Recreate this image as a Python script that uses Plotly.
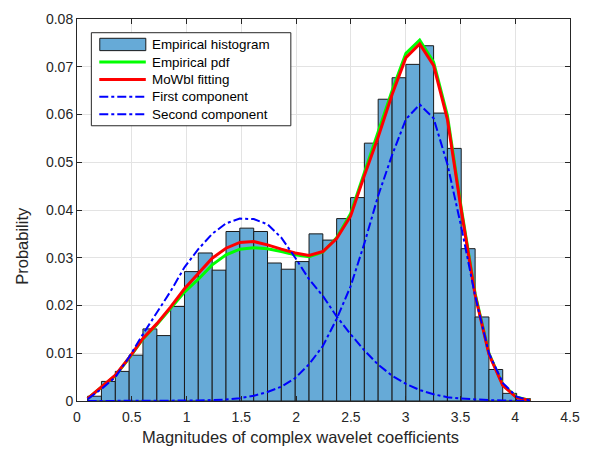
import plotly.graph_objects as go

# ---- data ----
bin_edges = [0.097, 0.223, 0.350, 0.476, 0.602, 0.729, 0.855, 0.981, 1.107, 1.234,
             1.360, 1.486, 1.613, 1.739, 1.865, 1.992, 2.118, 2.244, 2.370, 2.497,
             2.623, 2.749, 2.876, 3.002, 3.128, 3.255, 3.381, 3.507, 3.634, 3.760,
             3.886, 4.013, 4.139]

hist_prob = [0.0010, 0.0041, 0.0062, 0.0096, 0.0151, 0.0137, 0.0198, 0.0271, 0.0310, 0.0274,
             0.0355, 0.0362, 0.0355, 0.0289, 0.0276, 0.0292, 0.0350, 0.0337, 0.0382, 0.0426,
             0.0540, 0.0632, 0.0677, 0.0705, 0.0744, 0.0603, 0.0529, 0.0319, 0.0176, 0.0066,
             0.0016, 0.0005]

empirical_pdf = [0.0005, 0.0028, 0.0053, 0.0090, 0.0130, 0.0160, 0.0193, 0.0228, 0.0255, 0.0285,
                 0.0306, 0.0318, 0.0321, 0.0319, 0.0313, 0.0306, 0.0302, 0.0312, 0.0342, 0.0392,
                 0.0478, 0.0565, 0.0650, 0.0728, 0.0756, 0.0710, 0.0598, 0.0405, 0.0225, 0.0100,
                 0.0034, 0.0008, 0.0001]

mowbl_fit = [0.0005, 0.0029, 0.0054, 0.0091, 0.0131, 0.0162, 0.0197, 0.0235, 0.0268, 0.0299,
             0.0320, 0.0332, 0.0334, 0.0327, 0.0318, 0.0310, 0.0305, 0.0313, 0.0340, 0.0387,
             0.0472, 0.0553, 0.0642, 0.0719, 0.0748, 0.0703, 0.0590, 0.0400, 0.0222, 0.0098,
             0.0033, 0.0007, 0.0001]

first_comp = [0.0004, 0.0025, 0.0050, 0.0092, 0.0140, 0.0185, 0.0230, 0.0280, 0.0318, 0.0350,
              0.0372, 0.0382, 0.0381, 0.0370, 0.0342, 0.0300, 0.0255, 0.0220, 0.0177, 0.0140,
              0.0106, 0.0076, 0.0053, 0.0036, 0.0023, 0.0014, 0.0008, 0.0005, 0.0003, 0.0002,
              0.0001, 0.0000, 0.0000]

second_comp = [0.0000, 0.0000, 0.0000, 0.0000, 0.0000, 0.0000, 0.0000, 0.0000, 0.0001, 0.0002,
               0.0003, 0.0006, 0.0011, 0.0019, 0.0030, 0.0048, 0.0077, 0.0115, 0.0172, 0.0240,
               0.0330, 0.0430, 0.0515, 0.0590, 0.0621, 0.0592, 0.0496, 0.0365, 0.0220, 0.0100,
               0.0038, 0.0009, 0.0001]

series_names = ["Empirical histogram", "Empirical pdf", "MoWbl fitting",
                "First component", "Second component"]

x_title = "Magnitudes of complex wavelet coefficients"
y_title = "Probability"

x_ticks = [0, 0.5, 1, 1.5, 2, 2.5, 3, 3.5, 4, 4.5]
x_tick_labels = ["0", "0.5", "1", "1.5", "2", "2.5", "3", "3.5", "4", "4.5"]
y_ticks = [0, 0.01, 0.02, 0.03, 0.04, 0.05, 0.06, 0.07, 0.08]
y_tick_labels = ["0", "0.01", "0.02", "0.03", "0.04", "0.05", "0.06", "0.07", "0.08"]

# ---- derived ----
bin_centers = [(a + b) / 2 for a, b in zip(bin_edges[:-1], bin_edges[1:])]
bin_widths = [b - a for a, b in zip(bin_edges[:-1], bin_edges[1:])]

FONT = "Liberation Sans, Arial, Helvetica, sans-serif"
AX = "#262626"
BAR_COLOR = "#66AAD7"
BAR_EDGE = "#1a1a1a"

W, H = 591, 451
ML, MR, MT, MB = 77, 16, 11, 50
PW, PH = W - ML - MR, H - MT - MB


def px_x(px):
    return (px - ML) / PW


def px_y(py):
    return (H - MB - py) / PH


line_styles = [
    None,
    dict(color="#00FF00", width=3),
    dict(color="#FF0000", width=3),
    dict(color="#0000FF", width=2, dash="dashdot"),
    dict(color="#0000FF", width=2, dash="dashdot"),
]

fig = go.Figure()
fig.add_trace(go.Bar(x=bin_centers, y=hist_prob, width=bin_widths,
                     marker=dict(color=BAR_COLOR, line=dict(color=BAR_EDGE, width=1)),
                     name=series_names[0]))
for ys, name, ls in zip([empirical_pdf, mowbl_fit, first_comp, second_comp],
                        series_names[1:], line_styles[1:]):
    fig.add_trace(go.Scatter(x=bin_edges, y=ys, mode="lines", line=ls, name=name))

# ---- custom legend (MATLAB style) ----
shapes = [dict(type="rect", xref="paper", yref="paper",
               x0=px_x(91.5), x1=px_x(293), y0=px_y(120), y1=px_y(25),
               fillcolor="white", line=dict(color=AX, width=1), layer="above")]
annotations = []
row_y = [37.0, 55.0, 72.7, 90.5, 108.3]
for i, (name, yy) in enumerate(zip(series_names, row_y)):
    if i == 0:
        shapes.append(dict(type="rect", xref="paper", yref="paper",
                           x0=px_x(100), x1=px_x(146.5), y0=px_y(yy + 6.3), y1=px_y(yy - 6.3),
                           fillcolor=BAR_COLOR, line=dict(color=BAR_EDGE, width=1), layer="above"))
    else:
        shapes.append(dict(type="line", xref="paper", yref="paper",
                           x0=px_x(99.5), x1=px_x(146.5), y0=px_y(yy), y1=px_y(yy),
                           line=line_styles[i], layer="above"))
    annotations.append(dict(text=name, xref="paper", yref="paper", x=px_x(151), y=px_y(yy),
                            xanchor="left", yanchor="middle", showarrow=False,
                            font=dict(family=FONT, size=13.4, color="#000000")))

# axis titles placed where they sit in the reference
annotations.append(dict(text=x_title, xref="paper", yref="paper", x=px_x(303), y=px_y(438),
                        xanchor="center", yanchor="middle", showarrow=False,
                        font=dict(family=FONT, size=16.5, color=AX)))
annotations.append(dict(text=y_title, xref="paper", yref="paper", x=px_x(22), y=px_y(243),
                        xanchor="center", yanchor="middle", showarrow=False, textangle=-90,
                        font=dict(family=FONT, size=16.5, color=AX)))

axis_common = dict(showline=True, linecolor=AX, linewidth=1, mirror="allticks",
                   ticks="inside", ticklen=5, tickcolor=AX, showgrid=True,
                   gridcolor="#e3e3e3", gridwidth=1, zeroline=False,
                   tickfont=dict(family=FONT, size=14, color=AX))

fig.update_layout(
    width=W, height=H,
    margin=dict(l=ML, r=MR, t=MT, b=MB),
    paper_bgcolor="white", plot_bgcolor="white",
    font=dict(family=FONT, color=AX),
    showlegend=False,
    shapes=shapes,
    annotations=annotations,
    xaxis=dict(range=[0, 4.5], tickvals=x_ticks, ticktext=x_tick_labels,
               ticklabelstandoff=3, **axis_common),
    yaxis=dict(range=[0, 0.08], tickvals=y_ticks, ticktext=y_tick_labels,
               **axis_common),
)

fig.write_html("out.html")
